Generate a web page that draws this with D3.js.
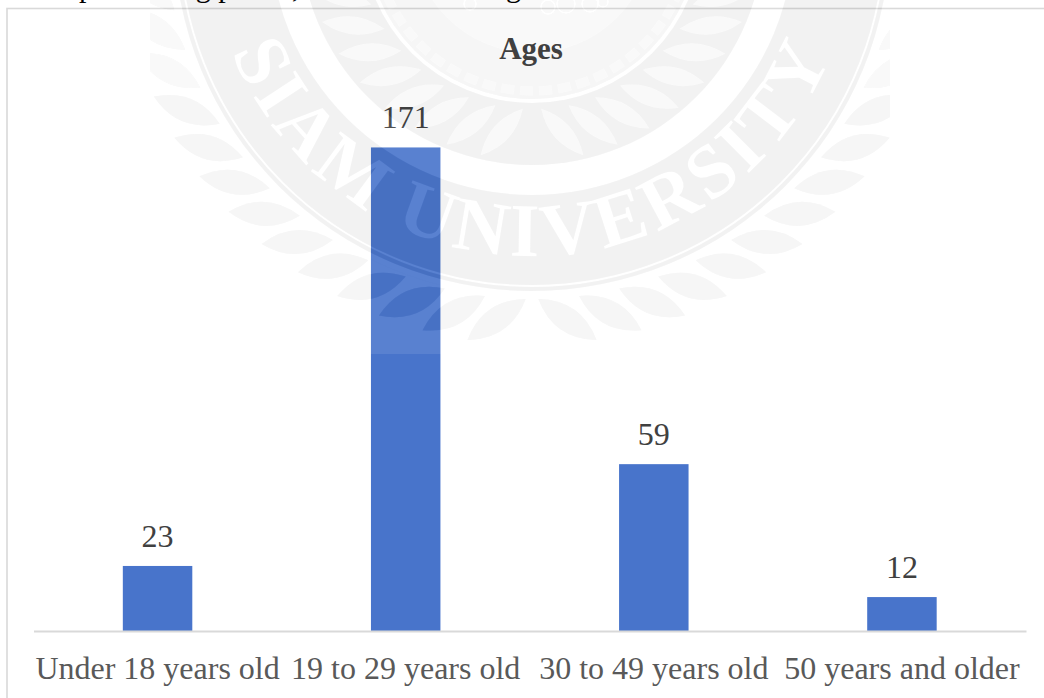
<!DOCTYPE html>
<html><head><meta charset="utf-8">
<script src="https://cdn.jsdelivr.net/npm/d3@7"></script>
<style>html,body{margin:0;padding:0;background:#fff;overflow:hidden}svg{display:block}text{font-family:"Liberation Serif",serif}</style>
</head><body><svg id="c" width="1044" height="698"></svg>
<script>
const categories=["Under 18 years old","19 to 29 years old","30 to 49 years old","50 years and older"];
const values=[23,171,59,12];
const title="Ages";
const pageLineAbove=["purchasing power,","g"];
const watermarkText="SIAM UNIVERSITY";

const svg=d3.select("#c");
const x=d3.scaleBand().domain(categories).range([33.5,1026]).paddingInner(0.72).paddingOuter(0.36);
const y=d3.scaleLinear().domain([0,180]).range([631,122]);

// clipped line of page text above the chart
svg.selectAll("text.above").data(pageLineAbove).join("text").attr("class","above")
 .attr("x",(d,i)=>[79,506][i]).attr("y",-3).attr("font-size",30).attr("fill","#000").text(d=>d);

svg.append("rect").attr("x",7).attr("y",8.5).attr("width",1060).attr("height",720).attr("fill","#fff").attr("stroke","#d9d9d9").attr("stroke-width",1.6);
svg.append("text").attr("x",531).attr("y",58.5).attr("text-anchor","middle").attr("font-size",31).attr("font-weight","bold").attr("fill","#404040").text(title);

svg.selectAll("rect.bar").data(values).join("rect").attr("class","bar")
 .attr("x",(d,i)=>x(categories[i])).attr("width",x.bandwidth())
 .attr("y",d=>y(d)).attr("height",d=>y(0)-y(d)).attr("fill","#4874cb");
svg.selectAll("text.val").data(values).join("text").attr("class","val")
 .attr("x",(d,i)=>x(categories[i])+x.bandwidth()/2).attr("y",d=>y(d)-19)
 .attr("text-anchor","middle").attr("font-size",32).attr("fill","#404040").text(d=>d);

const ax=svg.append("g").attr("transform","translate(0,631)").call(d3.axisBottom(x).tickSize(0).tickPadding(25));
ax.select(".domain").attr("stroke","#d9d9d9").attr("stroke-width",2);
ax.selectAll("text").attr("font-size",32).attr("fill","#595959").attr("font-family","Liberation Serif");

// ---- faint seal watermark lying over the chart (image box ends at y=354) ----
// Tones encode grey in R and layer alpha in G; the filter decodes them.
const tone={white:"rgb(255,23,0)",band:"rgb(54,17,0)",soft:"rgb(54,12,0)",faint:"rgb(54,7,0)"};
const defs=svg.append("defs");
defs.append("filter").attr("id","wmf").attr("x",0).attr("y",0).attr("width",1).attr("height",1)
 .attr("color-interpolation-filters","sRGB").append("feColorMatrix").attr("type","matrix")
 .attr("values","1 0 0 0 0  1 0 0 0 0  1 0 0 0 0  0 1 0 0 0");
const cx=532,cy=-67;
defs.append("path").attr("id","wmarc").attr("d",`M ${cx-323} ${cy} A 323 323 0 0 0 ${cx+323} ${cy}`);
defs.append("clipPath").attr("id","wmbox").append("rect").attr("x",150).attr("y",0).attr("width",740).attr("height",354);
const wrap=svg.append("g").attr("clip-path","url(#wmbox)").attr("pointer-events","none");
const seal=wrap.append("g").attr("filter","url(#wmf)");
seal.append("rect").attr("x",150).attr("y",0).attr("width",740).attr("height",354).attr("fill",tone.white);
const c=seal.append("g").attr("transform",`translate(${cx},${cy})`);
const disc=(r,f)=>c.append("circle").attr("r",r).attr("fill",f);
const polar=(r,deg)=>{const a=deg*Math.PI/180;return [r*Math.sin(a),r*Math.cos(a)];};
const leaf=(r0,r1,a0,a1,w,f)=>{
  const [x0,y0]=polar(r0,a0),[x1,y1]=polar(r1,a1);
  const mx=(x0+x1)/2,my=(y0+y1)/2,dx=x1-x0,dy=y1-y0,l=Math.hypot(dx,dy),nx=-dy/l*w,ny=dx/l*w;
  const p=d3.path();p.moveTo(x0,y0);p.quadraticCurveTo(mx+nx,my+ny,x1,y1);p.quadraticCurveTo(mx-nx,my-ny,x0,y0);p.closePath();
  c.append("path").attr("d",p.toString()).attr("fill",f);
};
// outer laurel leaves
d3.range(1,84,6.4).forEach(a=>{[1,-1].forEach(s=>{
  leaf(366,412,s*a,s*(a+8),24,a>62?tone.faint:tone.soft);
});});
disc(364,tone.white);
disc(358,tone.band);
c.append("circle").attr("r",353).attr("fill","none").attr("stroke",tone.white).attr("stroke-width",2);
disc(262,tone.white);
disc(232,tone.band);
// inner leaves
d3.range(3,92,9).forEach(a=>{[1,-1].forEach(s=>{leaf(176,228,s*a,s*(a+10),18,tone.faint);});});
disc(170,tone.white);
disc(166,tone.soft);
c.append("circle").attr("r",158).attr("fill","none").attr("stroke",tone.faint).attr("stroke-width",9).attr("stroke-dasharray","13 6");
disc(120,tone.faint);
// top ornament curls
[[548,7,7],[566,4,9],[590,4,8],[603,2,5],[470,4,6]].forEach(d=>seal.append("circle").attr("cx",d[0]).attr("cy",d[1]).attr("r",d[2]).attr("fill","none").attr("stroke",tone.white).attr("stroke-width",2));
seal.append("text").attr("font-size",76).attr("fill",tone.white).attr("font-weight","bold").attr("letter-spacing",5)
 .append("textPath").attr("href","#wmarc").attr("startOffset","50%").attr("text-anchor","middle").text(watermarkText);
</script></body></html>
